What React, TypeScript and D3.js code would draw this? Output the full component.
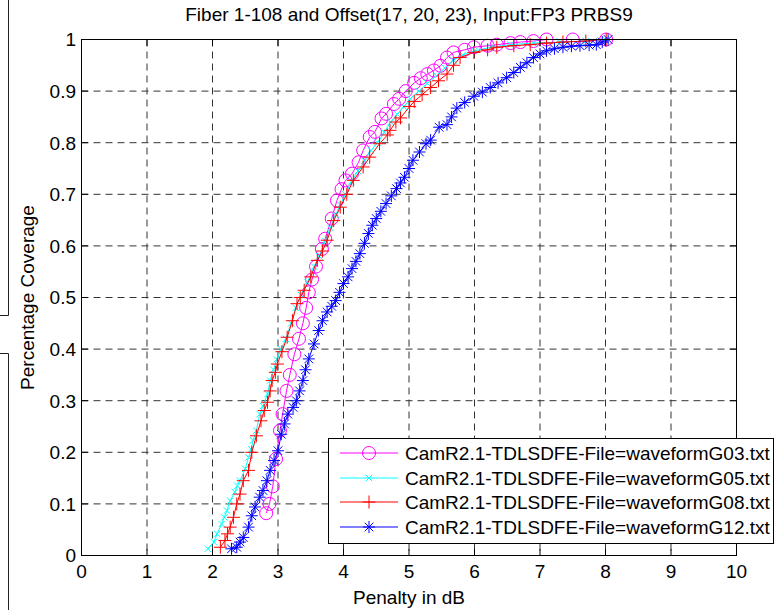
import React from "react";
import * as d3 from "d3";

const title = "Fiber 1-108 and Offset(17, 20, 23), Input:FP3 PRBS9";
const xLabel = "Penalty in dB";
const yLabel = "Percentage Coverage";
const xTicks = [0, 1, 2, 3, 4, 5, 6, 7, 8, 9, 10];
const yTicks = [0, 0.1, 0.2, 0.3, 0.4, 0.5, 0.6, 0.7, 0.8, 0.9, 1];
const yTickLabels = ["0", "0.1", "0.2", "0.3", "0.4", "0.5", "0.6", "0.7", "0.8", "0.9", "1"];

const seriesNames = [
  "CamR2.1-TDLSDFE-File=waveformG03.txt",
  "CamR2.1-TDLSDFE-File=waveformG05.txt",
  "CamR2.1-TDLSDFE-File=waveformG08.txt",
  "CamR2.1-TDLSDFE-File=waveformG12.txt",
];
const seriesColors = ["#ff00ff", "#00ffff", "#ff0000", "#0000ff"];
const seriesMarkers = ["circle", "x", "plus", "star"];

const g03: [number, number][] = [
  [2.82, 0.082], [2.87, 0.1], [2.92, 0.134], [2.97, 0.187], [3.03, 0.242], [3.07, 0.274],
  [3.13, 0.319], [3.18, 0.35], [3.25, 0.39], [3.32, 0.42], [3.38, 0.45], [3.43, 0.48],
  [3.47, 0.51], [3.52, 0.535], [3.58, 0.56], [3.67, 0.594], [3.72, 0.614], [3.82, 0.653],
  [3.9, 0.688], [3.97, 0.71], [4.03, 0.727], [4.13, 0.74], [4.23, 0.762], [4.3, 0.785],
  [4.4, 0.811], [4.48, 0.821], [4.58, 0.847], [4.65, 0.856], [4.77, 0.875], [4.85, 0.885],
  [4.95, 0.9], [5.08, 0.916], [5.18, 0.925], [5.28, 0.933], [5.38, 0.94], [5.48, 0.949],
  [5.58, 0.965], [5.68, 0.975], [5.85, 0.98], [5.99, 0.985], [6.2, 0.988], [6.34, 0.99],
  [6.55, 0.993], [6.7, 0.995], [6.9, 0.997], [7.1, 1.0], [7.5, 1.0], [8.01, 1.0],
];

const g05: [number, number][] = [
  [1.93, 0.013], [2.02, 0.026], [2.07, 0.042], [2.14, 0.061], [2.18, 0.074], [2.22, 0.087],
  [2.27, 0.106], [2.34, 0.123], [2.38, 0.135], [2.42, 0.145], [2.5, 0.168], [2.55, 0.19],
  [2.59, 0.206], [2.62, 0.223], [2.67, 0.242], [2.72, 0.274], [2.77, 0.29], [2.84, 0.313],
  [2.88, 0.339], [2.93, 0.36], [2.98, 0.38], [3.05, 0.4], [3.12, 0.42], [3.2, 0.45],
  [3.27, 0.48], [3.35, 0.505], [3.45, 0.53], [3.55, 0.56], [3.63, 0.58], [3.72, 0.61],
  [3.8, 0.635], [3.88, 0.66], [3.95, 0.68], [4.03, 0.7], [4.12, 0.725], [4.22, 0.745],
  [4.32, 0.765], [4.42, 0.785], [4.52, 0.8], [4.62, 0.82], [4.72, 0.84], [4.82, 0.855],
  [4.92, 0.87], [5.02, 0.885], [5.15, 0.9], [5.28, 0.915], [5.42, 0.93], [5.55, 0.945],
  [5.68, 0.96], [5.82, 0.97], [6.0, 0.978], [6.25, 0.985], [6.55, 0.99], [6.9, 0.993],
  [7.3, 0.995], [7.7, 0.997], [8.0, 1.0],
];

const g08: [number, number][] = [
  [2.12, 0.016], [2.19, 0.029], [2.23, 0.042], [2.27, 0.055], [2.32, 0.074], [2.37, 0.1],
  [2.42, 0.119], [2.47, 0.145], [2.55, 0.165], [2.6, 0.2], [2.67, 0.232], [2.74, 0.261],
  [2.79, 0.281], [2.84, 0.297], [2.88, 0.319], [2.91, 0.339], [2.96, 0.355], [2.99, 0.371],
  [3.06, 0.395], [3.14, 0.423], [3.22, 0.455], [3.29, 0.488], [3.34, 0.5], [3.4, 0.514],
  [3.5, 0.54], [3.6, 0.572], [3.68, 0.59], [3.75, 0.611], [3.85, 0.649], [3.95, 0.675],
  [4.05, 0.7], [4.15, 0.727], [4.3, 0.753], [4.4, 0.772], [4.55, 0.798], [4.67, 0.815],
  [4.71, 0.824], [4.8, 0.84], [4.87, 0.848], [5.01, 0.87], [5.08, 0.88], [5.2, 0.893],
  [5.33, 0.907], [5.45, 0.92], [5.58, 0.933], [5.68, 0.95], [5.78, 0.965], [5.99, 0.975],
  [6.2, 0.98], [6.34, 0.985], [6.6, 0.988], [6.85, 0.99], [7.1, 0.993], [7.35, 0.995],
  [7.7, 0.997], [8.01, 1.0],
];

const g12: [number, number][] = [
  [2.29, 0.013], [2.37, 0.016], [2.42, 0.026], [2.47, 0.035], [2.55, 0.055], [2.6, 0.077],
  [2.65, 0.094], [2.72, 0.113], [2.77, 0.126], [2.83, 0.145], [2.88, 0.165], [2.94, 0.184],
  [3.0, 0.203], [3.05, 0.235], [3.1, 0.255], [3.15, 0.274], [3.23, 0.287], [3.28, 0.3],
  [3.33, 0.319], [3.38, 0.339], [3.42, 0.36], [3.47, 0.381], [3.55, 0.41], [3.62, 0.436],
  [3.68, 0.455], [3.75, 0.472], [3.82, 0.483], [3.88, 0.494], [3.94, 0.51], [4.0, 0.527],
  [4.07, 0.54], [4.13, 0.556], [4.19, 0.57], [4.25, 0.585], [4.32, 0.605], [4.38, 0.624],
  [4.44, 0.64], [4.5, 0.653], [4.57, 0.667], [4.65, 0.682], [4.73, 0.697], [4.81, 0.711],
  [4.87, 0.722], [4.93, 0.733], [5.0, 0.75], [5.06, 0.766], [5.16, 0.782], [5.26, 0.798],
  [5.33, 0.805], [5.46, 0.83], [5.58, 0.835], [5.65, 0.85], [5.73, 0.867], [5.85, 0.878],
  [5.99, 0.89], [6.12, 0.898], [6.24, 0.907], [6.36, 0.916], [6.49, 0.926], [6.6, 0.936],
  [6.7, 0.946], [6.8, 0.955], [6.9, 0.965], [7.0, 0.972], [7.1, 0.978], [7.22, 0.982],
  [7.35, 0.985], [7.48, 0.987], [7.61, 0.988], [7.75, 0.989], [7.86, 0.99], [7.95, 0.995],
  [8.04, 1.0],
];

const seriesData = [g03, g05, g08, g12];

const W = 783;
const H = 610;
const FONT = "'Liberation Sans', Arial, Helvetica, sans-serif";
const FS = 19;

function Marker({ type, x, y, color }: { type: string; x: number; y: number; color: string }) {
  if (type === "circle") {
    return <circle cx={x} cy={y} r={6.5} fill="none" stroke={color} strokeWidth={1} />;
  }
  if (type === "x") {
    const s = 3.2;
    return (
      <path d={`M${x - s},${y - s}L${x + s},${y + s}M${x - s},${y + s}L${x + s},${y - s}`} stroke={color} strokeWidth={1} fill="none" />
    );
  }
  if (type === "plus") {
    const s = 6.5;
    return <path d={`M${x - s},${y}L${x + s},${y}M${x},${y - s}L${x},${y + s}`} stroke={color} strokeWidth={1} fill="none" />;
  }
  const s = 6;
  const d = s * 0.72;
  return (
    <path
      d={`M${x - s},${y}L${x + s},${y}M${x},${y - s}L${x},${y + s}M${x - d},${y - d}L${x + d},${y + d}M${x - d},${y + d}L${x + d},${y - d}`}
      stroke={color}
      strokeWidth={1}
      fill="none"
    />
  );
}

export default function App() {
  const x = d3.scaleLinear().domain([0, 10]).range([81.5, 736.5]);
  const y = d3.scaleLinear().domain([0, 1]).range([555.5, 39.5]);
  const line = d3
    .line<[number, number]>()
    .x((d) => x(d[0]))
    .y((d) => y(d[1]));

  const left = x(0);
  const right = x(10);
  const top = y(1);
  const bottom = y(0);
  const tl = 6.5;

  const legX = 328.5;
  const legY = 438.5;
  const legW = 445;
  const legH = 105;
  const rowY = [453, 478, 502, 527];

  return (
    <svg
      width={W}
      height={H}
      style={{ position: "absolute", left: 0, top: 0, background: "#fff" }}
      fontFamily={FONT}
    >
      <rect x={0} y={0} width={W} height={H} fill="#fff" />
      <path d="M8.5,0L8.5,315.5L0,315.5M0,353.5L8.5,353.5L8.5,610" stroke="#222" strokeWidth={1} fill="none" />

      {xTicks.slice(1, -1).map((t) => (
        <line key={"gx" + t} x1={x(t)} x2={x(t)} y1={top} y2={bottom} stroke="#333" strokeWidth={1} strokeDasharray="7,5" />
      ))}
      {yTicks.slice(1, -1).map((t) => (
        <line key={"gy" + t} x1={left} x2={right} y1={y(t)} y2={y(t)} stroke="#333" strokeWidth={1} strokeDasharray="7,5" />
      ))}

      {seriesData.map((data, i) => (
        <g key={"s" + i}>
          <path d={line(data) || ""} fill="none" stroke={seriesColors[i]} strokeWidth={1} />
          {data.map((d, j) => (
            <Marker key={j} type={seriesMarkers[i]} x={x(d[0])} y={y(d[1])} color={seriesColors[i]} />
          ))}
        </g>
      ))}

      <rect x={left} y={top} width={right - left} height={bottom - top} fill="none" stroke="#000" strokeWidth={1} />
      {xTicks.map((t) => (
        <g key={"tx" + t}>
          <line x1={x(t)} x2={x(t)} y1={bottom} y2={bottom - tl} stroke="#000" />
          <line x1={x(t)} x2={x(t)} y1={top} y2={top + tl} stroke="#000" />
          <text x={x(t)} y={578} textAnchor="middle" fontSize={FS} fill="#000">
            {t}
          </text>
        </g>
      ))}
      {yTicks.map((t, i) => (
        <g key={"ty" + t}>
          <line x1={left} x2={left + tl} y1={y(t)} y2={y(t)} stroke="#000" />
          <line x1={right} x2={right - tl} y1={y(t)} y2={y(t)} stroke="#000" />
          <text x={76} y={y(t)} dy="0.36em" textAnchor="end" fontSize={FS} fill="#000">
            {yTickLabels[i]}
          </text>
        </g>
      ))}

      <text x={(left + right) / 2} y={21} textAnchor="middle" fontSize={FS} fill="#000">
        {title}
      </text>
      <text x={(left + right) / 2} y={604} textAnchor="middle" fontSize={FS} fill="#000">
        {xLabel}
      </text>
      <text
        transform={`translate(34,${(top + bottom) / 2}) rotate(-90)`}
        textAnchor="middle"
        fontSize={FS}
        fill="#000"
      >
        {yLabel}
      </text>

      <rect x={legX} y={legY} width={legW} height={legH} fill="#fff" stroke="#000" strokeWidth={1} />
      {seriesNames.map((name, i) => (
        <g key={"l" + i}>
          <line x1={340} x2={398} y1={rowY[i]} y2={rowY[i]} stroke={seriesColors[i]} strokeWidth={1} />
          <Marker type={seriesMarkers[i]} x={369} y={rowY[i]} color={seriesColors[i]} />
          <text x={405} y={rowY[i]} dy="0.36em" fontSize={FS} fill="#000">
            {name}
          </text>
        </g>
      ))}
    </svg>
  );
}
